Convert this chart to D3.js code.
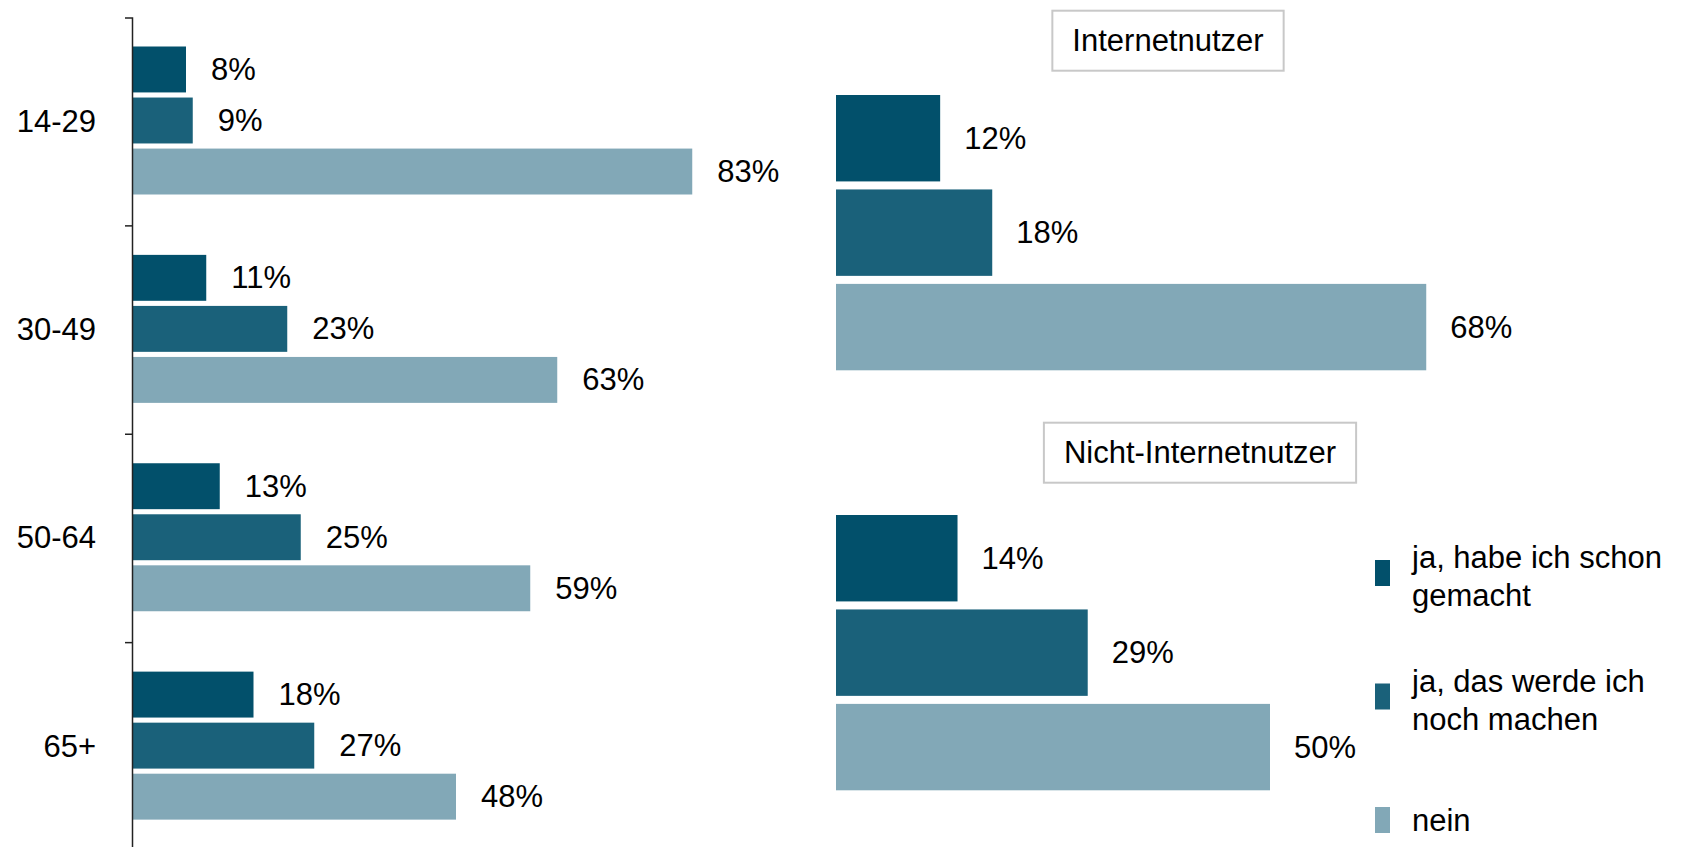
<!DOCTYPE html>
<html>
<head>
<meta charset="utf-8">
<script src="https://cdn.jsdelivr.net/npm/d3@7"></script>
<style>
  html, body { margin: 0; padding: 0; background: #fff; }
  svg { display: block; }
  text { font-family: "Liberation Sans", Arial, sans-serif; fill: #000; }
</style>
</head>
<body>
<svg id="chart" width="1683" height="847"></svg>
<script>
// ---- data ----
const categories = ["14-29", "30-49", "50-64", "65+"];
const series = ["ja, habe ich schon gemacht", "ja, das werde ich noch machen", "nein"];
const seriesLegendLines = [["ja, habe ich schon", "gemacht"], ["ja, das werde ich", "noch machen"], ["nein"]];
const ageDone = [8, 11, 13, 18];
const ageWill = [9, 23, 25, 27];
const ageNo = [83, 63, 59, 48];
const groups = ["Internetnutzer", "Nicht-Internetnutzer"];
const internetUsers = [12, 18, 68];
const nonInternetUsers = [14, 29, 50];

// ---- style ----
const colors = ["#02506B", "#1A617A", "#82A8B7"];
const fontSize = 31;

const svg = d3.select("#chart");
const color = d3.scaleOrdinal().domain(series).range(colors);

// ---- left panel: age groups ----
const xLeft = d3.scaleLinear().domain([0, 100]).range([132, 807]);
const yCat = d3.scaleBand().domain(categories).range([17.5, 851]);
const ySer = d3.scaleBand().domain(series).range([29, 177]).paddingInner(0.1);

const ageSeries = [ageDone, ageWill, ageNo];
const leftData = [];
categories.forEach((c, i) => series.forEach((s, j) => leftData.push({ c, s, v: ageSeries[j][i] })));

const left = svg.append("g");
left.selectAll("rect").data(leftData).join("rect")
  .attr("x", xLeft(0))
  .attr("y", d => yCat(d.c) + ySer(d.s))
  .attr("width", d => xLeft(d.v) - xLeft(0))
  .attr("height", ySer.bandwidth())
  .attr("fill", d => color(d.s));

left.selectAll("text.val").data(leftData).join("text")
  .attr("class", "val")
  .attr("x", d => xLeft(d.v) + 25)
  .attr("y", d => yCat(d.c) + ySer(d.s) + ySer.bandwidth() / 2)
  .attr("dominant-baseline", "central")
  .style("font-size", fontSize + "px")
  .text(d => d.v + "%");

const axis = d3.axisLeft(yCat).tickSizeInner(0).tickSizeOuter(7).tickPadding(36);
const axisG = svg.append("g").attr("transform", `translate(${xLeft(0)},0)`).call(axis);
axisG.select(".domain").attr("stroke", "#222").attr("stroke-width", 1.5);
axisG.selectAll(".tick text").style("font-size", fontSize + "px").style("font-family", '"Liberation Sans", Arial, sans-serif').attr("fill", "#000");
axisG.selectAll("line.sep").data(categories.slice(1)).join("line")
  .attr("class", "sep")
  .attr("x1", -7).attr("x2", 0)
  .attr("y1", d => yCat(d)).attr("y2", d => yCat(d))
  .attr("stroke", "#222").attr("stroke-width", 1.5);

// ---- right panel: internet users ----
const xRight = d3.scaleLinear().domain([0, 100]).range([836, 1704]);
const yGroup = d3.scaleBand().domain(groups).range([95, 935]);
const yInner = d3.scaleBand().domain(series).range([0, 275.3]).paddingInner(0.085);
const groupSeries = [internetUsers, nonInternetUsers];
const rightData = [];
groups.forEach((g, i) => series.forEach((s, j) => rightData.push({ g, s, v: groupSeries[i][j] })));

const right = svg.append("g");
right.selectAll("rect").data(rightData).join("rect")
  .attr("x", xRight(0))
  .attr("y", d => yGroup(d.g) + yInner(d.s))
  .attr("width", d => xRight(d.v) - xRight(0))
  .attr("height", yInner.bandwidth())
  .attr("fill", d => color(d.s));

right.selectAll("text.val").data(rightData).join("text")
  .attr("class", "val")
  .attr("x", d => xRight(d.v) + 24)
  .attr("y", d => yGroup(d.g) + yInner(d.s) + yInner.bandwidth() / 2)
  .attr("dominant-baseline", "central")
  .style("font-size", fontSize + "px")
  .text(d => d.v + "%");

// group title boxes
const titleCenters = [[1168, 40.7], [1200, 452.7]];
groups.forEach((g, i) => {
  const tg = svg.append("g").attr("transform", `translate(${titleCenters[i][0]},${titleCenters[i][1]})`);
  const rect = tg.append("rect");
  const t = tg.append("text")
    .attr("text-anchor", "middle")
    .attr("dominant-baseline", "central")
    .style("font-size", fontSize + "px")
    .text(g);
  const bb = t.node().getBBox();
  const w = bb.width + 40, h = 60;
  rect.attr("x", -w / 2).attr("y", -h / 2).attr("width", w).attr("height", h)
    .attr("fill", "#fff").attr("stroke", "#c8c8c8").attr("stroke-width", 2);
});

// ---- legend ----
const yLeg = d3.scalePoint().domain(series).range([573, 820]);
const leg = svg.append("g");
series.forEach((s, i) => {
  const cy = yLeg(s);
  leg.append("rect")
    .attr("x", 1375).attr("y", cy - 13).attr("width", 15).attr("height", 26)
    .attr("fill", color(s));
  const lines = seriesLegendLines[i];
  const t = leg.append("text").style("font-size", fontSize + "px");
  lines.forEach((ln, k) => {
    t.append("tspan")
      .attr("x", 1412)
      .attr("y", lines.length > 1 ? cy - 5 + k * 38 : cy + 11)
      .text(ln);
  });
});
</script>
</body>
</html>
